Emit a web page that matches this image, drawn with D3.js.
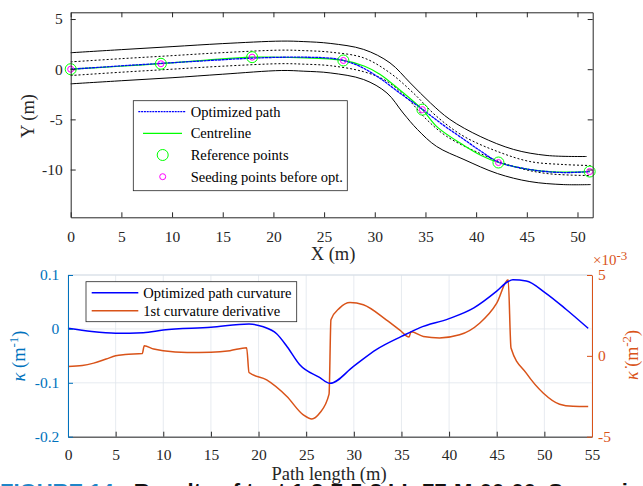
<!DOCTYPE html>
<html><head><meta charset="utf-8">
<script src="https://cdn.jsdelivr.net/npm/d3@7"></script>
<style>body{margin:0;background:#fff;overflow:hidden;} svg{display:block;} text{font-family:'Liberation Serif','Times New Roman',serif;}</style>
</head><body>
<svg id="chart" width="643" height="486"></svg>
<script>
// ---------- DATA (top plot: road & path, metres) ----------
const refX  = [0, 8.9, 17.9, 26.9, 34.7, 42.2, 51.2];
const refY  = [0, 0.54, 1.2, 0.87, -4.03, -9.3, -10.2];
const seedX = [0, 8.9, 17.9, 26.9, 34.7, 42.2, 51.2];
const seedY = [0, 0.54, 1.2, 0.87, -4.03, -9.3, -10.2];

const centreX = [0, 4.5, 8.9, 13.4, 17.9, 22.5, 26.9, 29, 30.5, 32.5, 34.7, 36.2, 38.8, 40.5, 42.2, 45, 48, 51.2];
const centreY = [0, 0.27, 0.55, 0.9, 1.2, 1.15, 0.87, 0.3, -0.5, -2.1, -4.03, -5.8, -7.6, -8.6, -9.3, -9.95, -10.25, -10.2];

const optX = [0, 4.5, 8.9, 13.4, 17.9, 22, 25.6, 26.9, 28.5, 30.5, 32.5, 34.7, 36.8, 38.8, 40.5, 42.2, 45.3, 48.6, 51.2];
const optY = [0, 0.3, 0.58, 0.85, 1.1, 1.2, 1.1, 0.87, 0.3, -0.9, -2.4, -4.0, -5.6, -7.0, -8.2, -9.25, -10.0, -10.3, -10.2];

const upOuterX = [0, 5, 10, 15, 20.8, 23, 25.6, 28.9, 31.5, 33.5, 35.5, 37.4, 40.4, 43.7, 47, 50.9];
const upOuterY = [1.64, 1.95, 2.25, 2.55, 2.8, 2.75, 2.57, 1.97, 0.63, -1.37, -3.37, -5.0, -6.7, -8.0, -8.6, -8.7];

const upInnerX = [0, 5, 10, 15, 20.8, 23, 25.6, 28.9, 31.5, 33.8, 36.1, 38.8, 42.1, 45.3, 48.6, 51.3];
const upInnerY = [0.73, 1.05, 1.35, 1.65, 1.9, 1.85, 1.7, 1.13, -0.37, -2.37, -4.7, -6.7, -8.2, -9.2, -9.5, -9.6];

const loInnerX = [0, 5, 10, 15, 20.8, 23, 25.6, 28.9, 31.2, 33.2, 35.1, 37.1, 40.4, 43.7, 47, 51.3];
const loInnerY = [-0.63, -0.3, 0.0, 0.3, 0.55, 0.5, 0.35, -0.25, -1.2, -2.9, -5.0, -6.7, -8.4, -9.7, -10.4, -10.6];

const loOuterX = [0, 5, 10, 15, 20.8, 23, 25.6, 28.9, 31.2, 32.8, 34.2, 36.1, 38.8, 42.1, 45.3, 48.6, 51.3];
const loOuterY = [-1.46, -1.15, -0.85, -0.5, -0.13, -0.2, -0.37, -1.03, -2.37, -4.37, -6.0, -7.7, -9.0, -10.4, -11.2, -11.5, -11.5];

const topXTicks = [0, 5, 10, 15, 20, 25, 30, 35, 40, 45, 50];
const topYTicks = [5, 0, -5, -10];

// ---------- DATA (bottom plot) ----------
const curvS = [0, 2.5, 5, 7.9, 10, 15, 19, 20.5, 21.9, 23, 24.3, 26.4, 27.5, 30, 32.4, 35, 36.9, 40, 42.6, 45, 46.2, 46.7, 48.1, 50.1, 52.3, 54.6];
const curvK = [0.001, -0.005, -0.008, -0.007, -0.002, 0.003, 0.009, 0.004, -0.009, -0.033, -0.066, -0.09, -0.101, -0.069, -0.038, -0.014, 0.002, 0.019, 0.039, 0.070, 0.088, 0.091, 0.089, 0.067, 0.036, 0.001];

const derS = [0, 1.5, 2.7, 4, 5, 6, 7.8, 8.0, 9, 10, 12.5, 15, 17, 18.75, 19.0, 20.85, 22.95, 24.7, 25.6, 26.4, 27.4, 27.6, 28.5, 29.6, 31, 33.4, 34.8, 35.8, 36.0, 37.3, 39, 41.1, 43.2, 45, 46.2, 46.5, 48.1, 49.9, 51.6, 53, 54.6];
const derK = [-0.66, -0.6, -0.45, -0.2, 0.0, 0.08, 0.14, 0.62, 0.42, 0.31, 0.2, 0.22, 0.32, 0.5, -1.03, -1.49, -2.5, -3.65, -3.9, -3.55, -2.37, 2.23, 2.95, 3.3, 3.16, 2.23, 1.61, 1.16, 1.49, 1.2, 1.11, 1.3, 2.02, 3.26, 4.7, 0.48, -1.07, -2.31, -2.99, -3.12, -3.14]; // x 1e-3

const botXTicks = [0, 5, 10, 15, 20, 25, 30, 35, 40, 45, 50, 55];
const leftTicks = [0.1, 0, -0.1, -0.2];
const rightTicks = [5, 0, -5];

const legendTop = ["Optimized path", "Centreline", "Reference points", "Seeding points before opt."];
const legendBot = ["Optimized path curvature", "1st curvature derivative"];

// ---------- DRAW ----------
const svg = d3.select("#chart");
const serif = "'Liberation Serif', 'Times New Roman', serif";
const axisCol = "#262626";
const blueAx = "#0072BD", orange = "#D95319";

const zip = (a, b) => a.map((v, i) => [v, b[i]]);

// ----- TOP -----
const xT = d3.scaleLinear().domain([0, 51.5]).range([70.7, 592.7]);
const yT = d3.scaleLinear().domain([-14.76, 5.67]).range([217.3, 12.3]);
const lineT = d3.line().x(d => xT(d[0])).y(d => yT(d[1])).curve(d3.curveCatmullRom.alpha(0.5));

const gTop = svg.append("g");

const bnd = [[upOuterX, upOuterY, null], [upInnerX, upInnerY, "2,2"], [loInnerX, loInnerY, "2,2"], [loOuterX, loOuterY, null]];
bnd.forEach(([bx, by, dash]) => {
  gTop.append("path").attr("d", lineT(zip(bx, by))).attr("fill", "none")
    .attr("stroke", "#000").attr("stroke-width", 1).attr("stroke-dasharray", dash);
});
gTop.append("path").attr("d", lineT(zip(centreX, centreY))).attr("fill", "none")
  .attr("stroke", "#00ff00").attr("stroke-width", 1.2);
gTop.append("path").attr("d", lineT(zip(optX, optY))).attr("fill", "none")
  .attr("stroke", "#0000ff").attr("stroke-width", 1.3).attr("stroke-dasharray", "3,0.6");
gTop.selectAll("circle.ref").data(zip(refX, refY)).join("circle").attr("class", "ref")
  .attr("cx", d => xT(d[0])).attr("cy", d => yT(d[1])).attr("r", 5.5)
  .attr("fill", "none").attr("stroke", "#00ff00").attr("stroke-width", 1);
gTop.selectAll("circle.seed").data(zip(seedX, seedY)).join("circle").attr("class", "seed")
  .attr("cx", d => xT(d[0])).attr("cy", d => yT(d[1])).attr("r", 3)
  .attr("fill", "none").attr("stroke", "#ff00ff").attr("stroke-width", 1);

function styleAxis(g, col, fs) {
  g.attr("font-family", null).attr("font-size", null);
  g.select(".domain").attr("stroke", col);
  g.selectAll(".tick line").attr("stroke", col);
  g.selectAll(".tick text").attr("fill", col).style("font-family", serif).style("font-size", fs + "px");
}
const fmt = d => String(d);

styleAxis(gTop.append("g").attr("transform", "translate(0,217.3)")
  .call(d3.axisBottom(xT).tickValues(topXTicks).tickFormat(fmt).tickSize(-5).tickSizeOuter(0).tickPadding(14)), axisCol, 15.5);
styleAxis(gTop.append("g").attr("transform", "translate(0,12.3)")
  .call(d3.axisTop(xT).tickValues(topXTicks).tickFormat("").tickSize(-5).tickSizeOuter(0)), axisCol, 15);
styleAxis(gTop.append("g").attr("transform", "translate(70.7,0)")
  .call(d3.axisLeft(yT).tickValues(topYTicks).tickFormat(fmt).tickSize(-5).tickSizeOuter(0).tickPadding(8)), axisCol, 15.5);
styleAxis(gTop.append("g").attr("transform", "translate(592.7,0)")
  .call(d3.axisRight(yT).tickValues(topYTicks).tickFormat("").tickSize(-5).tickSizeOuter(0)), axisCol, 15);

gTop.append("text").attr("x", 333).attr("y", 260).attr("text-anchor", "middle")
  .style("font-size", "18.5px").attr("fill", axisCol).text("X (m)");
gTop.append("text").attr("transform", "translate(34,116) rotate(-90)").attr("text-anchor", "middle")
  .style("font-size", "18.5px").attr("fill", axisCol).text("Y (m)");

// top legend
const lgT = gTop.append("g");
lgT.append("rect").attr("x", 133.3).attr("y", 100.7).attr("width", 214).attr("height", 90)
  .attr("fill", "#fff").attr("stroke", axisCol).attr("stroke-width", 0.8);
const rowsT = [111.7, 133.3, 155, 176.7];
legendTop.forEach((t, i) => {
  lgT.append("text").attr("x", 190.7).attr("y", rowsT[i] + 5)
    .style("font-size", "14.5px").attr("fill", "#000").text(t);
});
lgT.append("line").attr("x1", 138.3).attr("x2", 186).attr("y1", rowsT[0]).attr("y2", rowsT[0])
  .attr("stroke", "#0000ff").attr("stroke-width", 1.3).attr("stroke-dasharray", "2,0.8");
lgT.append("line").attr("x1", 143).attr("x2", 182).attr("y1", rowsT[1]).attr("y2", rowsT[1])
  .attr("stroke", "#00ff00").attr("stroke-width", 1.2);
lgT.append("circle").attr("cx", 162.7).attr("cy", rowsT[2]).attr("r", 5.5).attr("fill", "none").attr("stroke", "#00ff00");
lgT.append("circle").attr("cx", 162.7).attr("cy", rowsT[3]).attr("r", 3).attr("fill", "none").attr("stroke", "#ff00ff");

// ----- BOTTOM -----
const xB = d3.scaleLinear().domain([0, 55]).range([68, 592]);
const yL = d3.scaleLinear().domain([-0.2, 0.1]).range([436.7, 275]);
const yR = d3.scaleLinear().domain([-5, 5]).range([436.7, 275]);
const gB = svg.append("g");
const gridCol = "#e1e6ec";
botXTicks.forEach(v => {
  gB.append("line").attr("x1", xB(v)).attr("x2", xB(v)).attr("y1", 275).attr("y2", 436.7)
    .attr("stroke", gridCol).attr("stroke-width", 0.8);
});
leftTicks.forEach(v => {
  gB.append("line").attr("x1", 68).attr("x2", 592).attr("y1", yL(v)).attr("y2", yL(v))
    .attr("stroke", gridCol).attr("stroke-width", 0.8);
});
gB.append("line").attr("x1", 68).attr("x2", 592).attr("y1", 275).attr("y2", 275).attr("stroke", "#d5dde6").attr("stroke-width", 1);

const lineL = d3.line().x(d => xB(d[0])).y(d => yL(d[1])).curve(d3.curveMonotoneX);
const lineR = d3.line().x(d => xB(d[0])).y(d => yR(d[1])).curve(d3.curveMonotoneX);
gB.append("path").attr("d", lineR(zip(derS, derK))).attr("fill", "none").attr("stroke", orange).attr("stroke-width", 1.5);
gB.append("path").attr("d", lineL(zip(curvS, curvK))).attr("fill", "none").attr("stroke", "#0000ff").attr("stroke-width", 1.5);

styleAxis(gB.append("g").attr("transform", "translate(0,436.7)")
  .call(d3.axisBottom(xB).tickValues(botXTicks).tickFormat(fmt).tickSize(-5).tickSizeOuter(0).tickPadding(12.6)), axisCol, 15.5);
styleAxis(gB.append("g").attr("transform", "translate(68,0)")
  .call(d3.axisLeft(yL).tickValues(leftTicks).tickFormat(fmt).tickSize(-5).tickSizeOuter(0).tickPadding(8.7)), blueAx, 15.5);
styleAxis(gB.append("g").attr("transform", "translate(592,0)")
  .call(d3.axisRight(yR).tickValues(rightTicks).tickFormat(fmt).tickSize(-5).tickSizeOuter(0).tickPadding(6)), orange, 15.5);

// exponent
const ex = gB.append("text").attr("x", 593).attr("y", 265).style("font-size", "15px").attr("fill", orange);
ex.append("tspan").text("\u00d710");
ex.append("tspan").attr("dy", -5).style("font-size", "13px").text("-3");

// y labels
const yl = gB.append("text").attr("transform", "translate(25,356) rotate(-90)").attr("text-anchor", "middle")
  .style("font-size", "18.5px").attr("fill", blueAx);
yl.append("tspan").attr("font-style", "italic").text("\u03ba");
yl.append("tspan").text(" (m");
yl.append("tspan").attr("dy", -7).style("font-size", "13px").text("-1");
yl.append("tspan").attr("dy", 7).text(")");

const yr = gB.append("text").attr("transform", "translate(638,355) rotate(-90)").attr("text-anchor", "middle")
  .style("font-size", "18px").attr("fill", orange);
yr.append("tspan").attr("font-style", "italic").text("\u03ba\u0307");
yr.append("tspan").text(" (m");
yr.append("tspan").attr("dy", -7).style("font-size", "13px").text("-2");
yr.append("tspan").attr("dy", 7).text(")");

gB.append("text").attr("x", 329).attr("y", 480).attr("text-anchor", "middle")
  .style("font-size", "18.5px").attr("fill", axisCol).text("Path length (m)");

// bottom legend
const lgB = gB.append("g");
lgB.append("rect").attr("x", 86).attr("y", 281.7).attr("width", 210.7).attr("height", 40)
  .attr("fill", "#fff").attr("stroke", axisCol).attr("stroke-width", 0.8);
const rowsB = [292.7, 310.7];
const colsB = ["#0000ff", orange];
legendBot.forEach((t, i) => {
  lgB.append("line").attr("x1", 91.7).attr("x2", 138.3).attr("y1", rowsB[i]).attr("y2", rowsB[i])
    .attr("stroke", colsB[i]).attr("stroke-width", 1.5);
  lgB.append("text").attr("x", 143.3).attr("y", rowsB[i] + 5)
    .style("font-size", "14.5px").attr("fill", "#000").text(t);
});

// caption (cut off at bottom of the image)
const cap = svg.append("text").attr("x", 0).attr("y", 499)
  .style("font-family", "'Liberation Sans', Arial, sans-serif").style("font-size", "22px").attr("font-weight", "bold");
cap.append("tspan").attr("fill", "#1f86c8").text("FIGURE 14.");
cap.append("tspan").attr("fill", "#111").attr("dx", 14).text("Results of test 1-2-7-5-8 LL-77-M-00-00. Scenario and final");
</script>
</body></html>
